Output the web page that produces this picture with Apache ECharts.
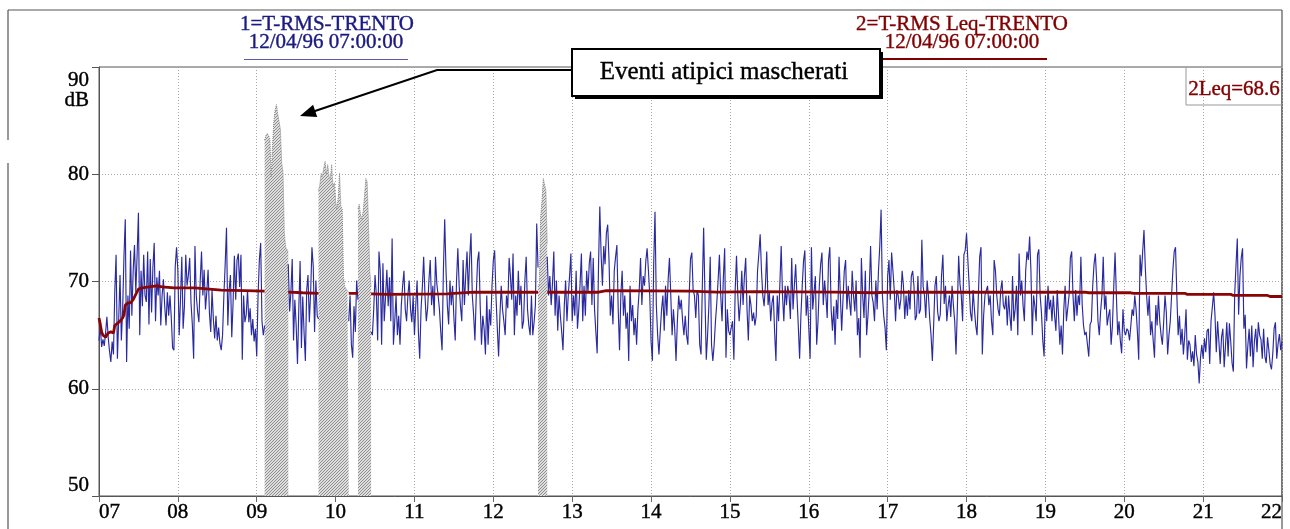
<!DOCTYPE html>
<html>
<head>
<meta charset="utf-8">
<script src="https://cdn.jsdelivr.net/npm/echarts@6/dist/echarts.min.js"></script>
<style>
  html, body { margin: 0; padding: 0; background: #fff; }
  #chart { width: 1290px; height: 529px; }
</style>
</head>
<body>
<div id="chart"></div>
<script>
// Hour labels of the time axis (07:00 .. 22:00)
const hourLabels = ['07', '08', '09', '10', '11', '12', '13', '14', '15', '16', '17', '18', '19', '20', '21', '22'];
// Level axis ticks and unit
const yTicks = [50, 60, 70, 80, 90];
const yUnit = 'dB';

const seriesNames = ['1=T-RMS-TRENTO', '2=T-RMS Leq-TRENTO'];
const startStamp = '12/04/96 07:00:00';
const leqTotal = 68.6;
const noteText = 'Eventi atipici mascherati';

// Short RMS level, one value per minute from 07:00 (minute 0) to 22:00 (minute 900).
// null where the events were masked.
const rmsLevels = [
  // 07
  64.5,65.8,63.9,64.6,64.0,65.2,66.7,64.8,63.5,62.5, 64.4,63.2,69.0,72.5,62.8,66.5,70.6,64.5,67.4,72.4,
  75.8,62.5,68.7,65.6,72.9,66.8,71.0,73.4,69.0,72.5, 76.4,65.0,71.0,67.7,72.5,68.7,68.1,72.8,66.0,72.1,
  67.1,71.3,73.6,66.3,70.4,68.7,71.0,65.9,68.7,70.2, 67.7,65.9,69.0,66.8,68.7,66.6,63.8,63.6,71.4,73.2,
  // 08
  71.0,65.0,68.3,72.3,65.6,67.7,72.5,69.6,70.6,72.2, 68.0,66.0,62.8,73.3,68.7,67.2,66.2,70.1,72.8,68.7,
  71.1,67.4,69.0,71.1,67.1,65.3,69.2,66.5,64.7,66.8, 64.5,65.7,64.2,63.6,65.0,68.7,71.6,75.0,65.9,69.2,
  70.6,64.8,68.0,72.4,68.3,72.0,72.6,69.5,72.5,62.7, 68.7,66.2,66.9,69.2,66.2,67.5,65.0,66.5,64.4,65.6,
  // 09
  63.0,68.7,72.0,73.6,66.3,65.0,65.9,
  null,null,null,null,null,null,null,null,null,null,null,null,null,null,null,null,null,
  71.6,67.2,69.0,72.1,64.5,68.3,65.9,62.3,67.4,71.9,63.8,68.6,65.3,62.6,69.2,70.6,66.2,68.9,73.2,71.4,65.3,70.1,66.8,66.5,
  null,null,null,null,null,null,null,null,null,null,null,null,
  // 10
  null,null,null,null,null,null,null,null,null,null,
  66.3,68.7,64.1,62.9,67.7,65.3,70.1,68.3,
  null,null,null,null,null,null,null,null,null,
  65.3,65.0,67.4,70.6,68.7,64.5,72.8,71.0,64.1,71.7,66.3,68.6,71.1,67.7,70.4,66.3,74.0,64.1,
  66.3,68.7,65.0,66.8,64.1,67.8,69.6,71.0,67.4,66.3,68.7,70.1,67.4,66.2,68.7,
  // 11
  65.0,67.8,70.1,65.3,62.8,67.4,69.5,72.3,68.7,66.3, 67.5,70.1,72.0,67.8,69.6,66.8,72.3,69.8,68.7,67.4,
  65.3,63.6,71.0,75.8,71.0,67.8,66.0,70.1,67.8,69.6, 66.6,64.5,70.1,73.1,69.6,67.7,66.3,72.0,67.8,70.6,
  72.8,68.7,72.2,74.5,68.7,66.9,64.5,68.7,71.9,72.8, 67.8,64.1,66.8,65.6,63.2,68.7,64.1,67.4,65.9,69.6,
  // 12
  72.0,72.9,68.7,65.7,63.0,66.8,69.6,67.4,66.3,65.0, 68.7,67.5,72.2,70.5,68.3,72.6,65.0,68.7,66.8,71.0,
  67.8,69.6,65.6,66.3,70.1,72.3,67.4,65.9,65.0,68.7, 65.0,66.2,67.8,75.4,71.3,
  null,null,null,null,null,null,
  72.3,68.7,70.5,67.8,69.8,72.8,66.8,70.1,65.4,68.7,66.8,65.3,63.6,67.8,70.1,66.3,68.7,70.5,72.6,
  // 13
  66.3,68.7,66.8,71.0,65.6,67.4,69.8,72.6,66.3,69.6, 66.8,71.0,69.0,71.7,72.8,67.8,72.2,67.4,65.3,63.3,
  71.3,77.0,72.5,69.6,73.3,71.6,74.5,75.3,72.0,66.8, 68.7,66.0,71.0,72.3,73.4,67.4,63.6,68.7,71.0,66.8,
  68.7,65.6,67.1,62.6,69.6,66.3,67.8,65.0,66.6,64.1, 67.4,69.2,72.2,67.8,70.5,69.6,71.9,73.1,71.0,68.7,
  // 14
  64.4,62.6,71.6,76.5,67.8,65.0,63.2,65.4,67.4,68.7, 65.4,69.6,66.8,70.2,72.2,68.7,65.0,67.4,65.6,62.6,
  66.3,68.7,67.4,68.3,66.3,65.0,66.8,65.0,64.1,68.7, 72.1,72.7,69.2,68.7,66.6,69.2,68.7,64.1,63.2,69.6,
  75.0,68.7,62.7,65.0,67.8,72.3,64.1,62.6,64.1,66.3, 68.0,70.1,72.5,68.7,66.3,70.4,73.1,62.9,67.4,65.4,
  // 15
  65.0,65.7,66.3,62.7,69.2,72.4,68.7,66.3,68.0,71.0, 67.8,70.5,72.2,67.4,64.5,68.7,67.8,66.3,67.1,65.9,
  66.8,71.0,72.6,74.4,71.0,68.7,67.7,69.6,72.8,67.8, 69.0,66.3,68.0,68.7,65.3,62.6,68.7,66.3,69.8,73.3,
  68.7,66.3,69.6,67.8,69.6,68.7,66.5,72.2,67.4,69.6, 71.6,68.6,65.9,62.8,66.8,69.6,71.9,72.9,66.8,68.7,
  // 16
  65.6,62.8,73.2,67.4,69.0,70.5,64.1,66.3,69.6,71.6, 72.7,67.8,70.1,68.7,66.6,72.0,73.2,67.4,65.4,67.7,
  64.1,68.3,66.5,72.3,68.7,65.4,68.3,71.0,72.0,67.4, 69.6,68.1,66.8,71.0,68.7,67.2,70.1,65.0,66.6,62.9,
  72.2,68.7,66.6,71.0,65.0,66.8,69.2,73.3,68.7,68.0, 66.3,70.1,67.4,71.0,73.3,76.7,68.7,66.8,65.7,63.6,
  // 17
  70.5,72.0,68.3,72.7,71.0,69.2,66.3,69.2,68.7,67.4, 68.3,71.0,69.6,66.5,68.7,66.8,69.2,67.4,70.5,71.0,
  69.6,66.4,66.8,70.5,67.0,67.4,73.9,69.5,68.7,66.6, 70.1,68.7,66.5,65.0,62.6,66.0,69.6,70.5,67.2,66.3,
  66.9,70.6,72.5,67.9,69.6,66.3,67.7,68.7,66.7,69.6, 67.8,66.3,63.2,67.4,72.4,69.8,68.7,66.3,72.5,72.9,
  // 18
  74.5,72.0,69.6,67.1,66.3,69.2,67.4,65.9,65.0,68.7, 72.3,73.2,63.2,66.8,68.7,68.6,69.6,67.8,68.7,66.3,
  65.0,72.0,71.0,68.7,67.4,66.8,69.2,70.1,67.8,67.4, 68.7,65.9,68.7,66.8,65.4,70.5,66.3,67.4,69.6,65.0,
  72.6,68.7,70.1,67.8,66.3,71.0,72.8,72.0,74.2,71.0, 65.0,68.7,67.7,66.3,72.5,73.0,68.7,67.1,64.5,63.0,
  // 19
  68.7,66.3,69.6,67.4,68.3,66.3,68.7,66.8,65.4,69.2, 66.8,64.1,65.9,63.2,67.4,69.6,66.3,67.5,68.7,72.2,
  72.8,68.7,66.3,69.2,66.8,68.7,67.8,72.3,67.8,65.9, 65.0,65.3,64.1,63.0,66.0,66.3,69.6,71.6,72.6,70.1,
  66.3,65.0,67.2,68.7,72.3,67.4,68.7,65.9,66.8,67.4, 64.1,65.9,69.5,72.7,68.7,65.0,66.3,64.5,63.3,67.4,
  // 20
  65.4,65.0,65.6,65.4,64.5,65.9,67.4,66.8,68.7,67.4, 65.3,62.7,72.5,70.5,72.8,74.8,71.3,68.7,66.8,68.7,
  65.0,66.3,64.5,62.9,67.8,65.9,68.7,66.3,65.0,64.1, 66.3,68.7,67.1,63.2,65.0,66.3,68.7,71.1,72.8,73.2,
  68.7,65.0,66.8,64.1,65.6,63.2,65.0,67.4,62.7,64.5, 64.1,62.5,63.5,62.1,65.0,63.2,62.5,60.5,62.9,64.1,
  // 21
  62.8,64.7,63.4,65.4,65.6,62.3,66.3,67.6,69.0,66.9, 63.4,66.3,64.4,62.3,64.8,65.6,62.0,64.0,66.2,63.0,
  66.1,64.4,62.4,61.6,68.8,71.5,74.0,66.9,70.5,72.2, 73.1,65.6,66.9,61.9,64.0,65.6,63.0,65.9,62.0,64.4,
  65.6,63.4,66.2,65.0,64.6,62.8,65.6,63.0,62.4,64.8, 63.6,62.3,61.8,63.3,65.6,66.2,62.8,64.2,65.1,63.6,
  // 22
  64.4
];

// Masked (atypical) events: first minute of each block and its levels, one per minute
const maskedStarts = [126, 167, 197, 334];
const maskedLevels = [
  [83.2,83.6,83.8,83.6,83.3,79.8,82.6,84.9,86.0,86.5,85.6,84.9,84.2,81.0,80.2,74.5,73.2,73.0,72.7],
  [78.5,79.0,80.1,79.8,80.6,81.2,80.0,80.9,79.8,79.5,80.9,78.8,79.2,77.5,76.7,77.9,80.1,77.0,76.8,70.4,69.5,69.3,69.1,69.0],
  [76.8,77.2,76.2,75.8,76.6,78.0,79.6,79.3,75.5,71.0,69.5],
  [69.5,69.8,76.0,77.5,79.6,79.5,78.5,73.5]
];

// Running Leq (minutes after 07:00, level); null breaks the line over masked blocks
const leqMinutes = [0,1,2,3,5,7,9,11,12,14,16,18,19,20,22,24,26,28,30,33,
  38,44,48,57,73,93,111,126,127,144,155,167,168,190,197,198,207,220,265,270,
  285,334,335,341,380,386,450,460,470,500,560,590,600,670,750,753,785,787,826,828,
  861,863,889,891,900];
const leqLevels = [66.6,66.0,65.3,65.0,64.8,65.2,65.3,65.2,65.9,66.1,66.3,66.6,66.9,67.8,68.0,68.0,68.3,68.8,69.3,69.4,
  69.5,69.6,69.5,69.4,69.4,69.2,69.15,69.1,null,69.0,68.95,68.9,null,68.9,68.9,null,68.85,68.8,68.85,68.9,
  69.0,69.0,null,69.0,69.0,69.15,69.1,69.05,69.0,69.05,69.0,68.95,69.0,69.0,69.0,68.95,68.95,68.9,68.9,68.8,
  68.8,68.7,68.7,68.6,68.6];

const SERIF = '"Liberation Serif", "Times New Roman", "DejaVu Serif", serif';
const NAVY = '#1a1a80';
const DARKRED = '#800000';

// Fine diagonal hatch for the masked blocks
function hatchCanvas() {
  const c = document.createElement('canvas');
  c.width = 3; c.height = 3;
  const g = c.getContext('2d');
  g.fillStyle = '#dedede';
  g.fillRect(0, 0, 3, 3);
  g.fillStyle = '#8e8e8e';
  for (let i = 0; i < 3; i++) g.fillRect(i, 2 - i, 1, 1);
  return c;
}
const hatch = hatchCanvas();

const toPoint = (x, v) => [x, v === null ? '-' : v];

const maskedSeries = maskedStarts.map((s, k) => ({
  type: 'line',
  name: 'masked' + k,
  data: maskedLevels[k].map((v, i) => toPoint(s + i, v)),
  showSymbol: false,
  silent: true,
  lineStyle: { color: '#8a8a8a', width: 1, type: [1, 1] },
  areaStyle: { color: { image: hatch, repeat: 'repeat' }, opacity: 1, origin: 'start' },
  z: 2
}));

// Arrow of the note box
const arrowPts = [[572, 70], [437, 70], [300, 116]];
function arrowHead(p0, tip, len, half) {
  const dx = tip[0] - p0[0], dy = tip[1] - p0[1];
  const L = Math.hypot(dx, dy), ux = dx / L, uy = dy / L;
  const bx = tip[0] - ux * len, by = tip[1] - uy * len;
  return [tip, [bx - uy * half, by + ux * half], [bx + uy * half, by - ux * half]];
}

// caption text with a hairline outline in its own colour (slightly heavier glyphs)
function label(x, y, text, color, size, align) {
  return {
    type: 'text', x: x, y: y, silent: true, z: 12,
    style: { text: text, font: size + 'px ' + SERIF, fill: color, stroke: color, lineWidth: 0.4,
             align: align || 'center', verticalAlign: 'middle' }
  };
}

const chart = echarts.init(document.getElementById('chart'), null, { renderer: 'canvas', width: 1290, height: 529 });

const axisFont = { color: '#000', fontFamily: SERIF, fontSize: 21, textBorderColor: '#000', textBorderWidth: 0.4 };

const option = {
  animation: false,
  backgroundColor: '#ffffff',
  grid: { left: 99, right: 8, top: 67, bottom: 33, show: true, borderColor: '#555', borderWidth: 1, backgroundColor: 'transparent' },
  xAxis: {
    type: 'value', min: 0, max: 900, interval: 60,
    axisLine: { show: true, lineStyle: { color: '#555', width: 1 } },
    axisTick: { show: true, length: 6, lineStyle: { color: '#666', width: 1 } },
    axisLabel: Object.assign({
      formatter: v => hourLabels[Math.round(v / 60)],
      margin: 6, alignMinLabel: 'left', alignMaxLabel: 'right'
    }, axisFont),
    splitLine: { show: true, lineStyle: { color: '#a8a8a8', width: 1, type: [1, 2] } }
  },
  yAxis: {
    type: 'value', min: yTicks[0], max: yTicks[yTicks.length - 1], interval: 10,
    axisLine: { show: true, lineStyle: { color: '#555', width: 1 } },
    axisTick: { show: true, length: 7, lineStyle: { color: '#555', width: 1 } },
    axisLabel: Object.assign({
      formatter: v => (v === yTicks[yTicks.length - 1] ? '' : String(v)),
      margin: 10, verticalAlignMinLabel: 'bottom'
    }, axisFont),
    splitLine: { show: true, lineStyle: { color: '#a8a8a8', width: 1, type: [1, 2] } }
  },
  series: [
    ...maskedSeries,
    {
      type: 'line', name: seriesNames[0],
      data: rmsLevels.map((v, i) => toPoint(i, v)),
      showSymbol: false, silent: true, connectNulls: false,
      lineStyle: { color: '#2a2aa0', width: 1.15 },
      z: 3
    },
    {
      type: 'line', name: seriesNames[1],
      data: leqMinutes.map((m, i) => toPoint(m, leqLevels[i])),
      showSymbol: false, silent: true, connectNulls: false,
      lineStyle: { color: '#8a0606', width: 2.8 },
      z: 4
    }
  ],
  graphic: [
    // outer frame
    { type: 'line', shape: { x1: 8, y1: 10, x2: 1282, y2: 10 }, style: { stroke: '#555', lineWidth: 1.2 }, silent: true },
    { type: 'line', shape: { x1: 8, y1: 10, x2: 8, y2: 140 }, style: { stroke: '#555', lineWidth: 1.2 }, silent: true },
    { type: 'line', shape: { x1: 8, y1: 163, x2: 8, y2: 529 }, style: { stroke: '#555', lineWidth: 1.2 }, silent: true },
    { type: 'line', shape: { x1: 1282, y1: 10, x2: 1282, y2: 529 }, style: { stroke: '#555', lineWidth: 1.2 }, silent: true },
    // top value and unit of the level axis
    label(89, 80, String(yTicks[yTicks.length - 1]), '#000', 21, 'right'),
    label(89, 100, yUnit, '#000', 21, 'right'),
    // series captions
    label(327, 24, seriesNames[0], NAVY, 21),
    label(326, 42, startStamp, NAVY, 21),
    { type: 'line', shape: { x1: 244, y1: 59.5, x2: 408, y2: 59.5 }, style: { stroke: '#5a5aa6', lineWidth: 1 }, silent: true },
    label(962, 24, seriesNames[1], DARKRED, 21),
    label(962, 42, startStamp, DARKRED, 21),
    { type: 'line', shape: { x1: 880, y1: 59, x2: 1047, y2: 59 }, style: { stroke: DARKRED, lineWidth: 2 }, silent: true },
    // overall Leq box
    { type: 'polyline', shape: { points: [[1186, 67], [1186, 105], [1282, 105]] }, style: { stroke: '#999', lineWidth: 1, fill: null }, silent: true },
    label(1234, 89, '2Leq=' + leqTotal.toFixed(1), DARKRED, 21),
    // note box with shadow
    { type: 'rect', shape: { x: 575, y: 52, width: 308, height: 47 }, style: { fill: '#000' }, silent: true, z: 10 },
    { type: 'rect', shape: { x: 572, y: 49, width: 308, height: 47 }, style: { fill: '#fff', stroke: '#000', lineWidth: 2 }, silent: true, z: 11 },
    label(724, 72, noteText, '#000', 25),
    { type: 'polyline', shape: { points: [arrowPts[0], arrowPts[1], arrowHead(arrowPts[1], arrowPts[2], 15, 0)[1]] }, style: { stroke: '#000', lineWidth: 2, fill: null }, silent: true, z: 10 },
    { type: 'polygon', shape: { points: arrowHead(arrowPts[1], arrowPts[2], 16, 6.5) }, style: { fill: '#000' }, silent: true, z: 10 }
  ]
};

chart.setOption(option);
</script>
</body>
</html>
